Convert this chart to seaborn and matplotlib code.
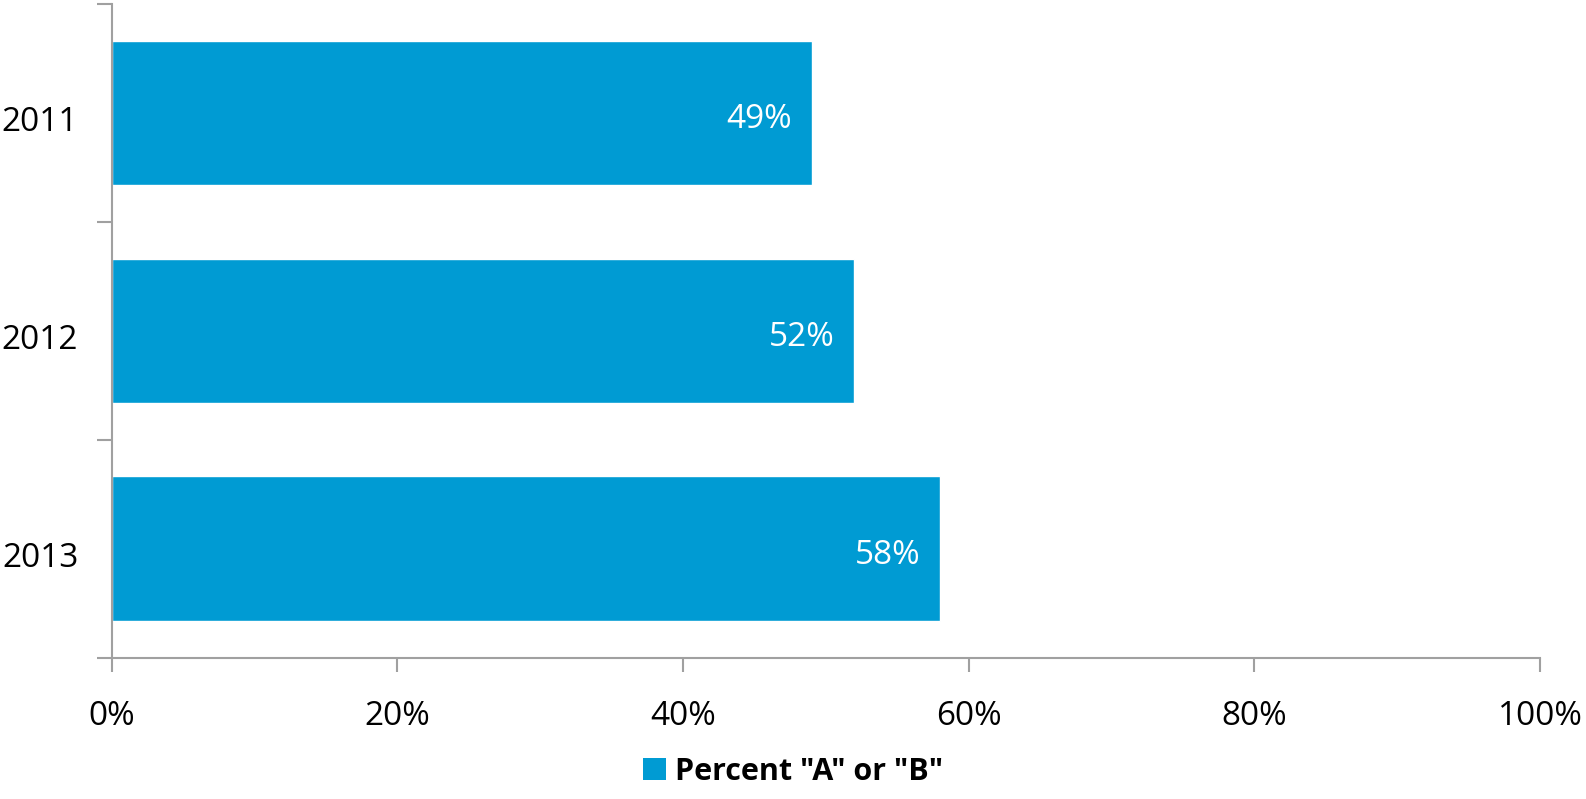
import matplotlib
matplotlib.use("Agg")
import matplotlib.pyplot as plt
import matplotlib.transforms as mtransforms
import seaborn as sns
import pandas as pd
from matplotlib.patches import Patch
from matplotlib.ticker import PercentFormatter, FixedLocator

years = ["2011", "2012", "2013"]
pct_a_or_b = [49, 52, 58]
x_ticks = [0, 20, 40, 60, 80, 100]
series_name = 'Percent "A" or "B"'

bar_color = "#009BD3"
axis_color = "#A0A0A0"

sns.set_style("white")
plt.rcParams["font.family"] = ["Open Sans", "DejaVu Sans"]
plt.rcParams["text.color"] = "black"

df = pd.DataFrame({"year": years, "pct": pct_a_or_b})

fig = plt.figure(figsize=(15.86, 7.99), dpi=100)
ax = fig.add_axes([0.0704, 0.1765, 0.9006, 0.8185])

sns.barplot(data=df, x="pct", y="year", orient="h", color=bar_color,
            saturation=1, width=0.665, ax=ax)

ax.set_xlim(0, 100)
ax.set_ylim(2.5, -0.5)
ax.set_xticks(x_ticks)
ax.xaxis.set_major_formatter(PercentFormatter(decimals=0))
ax.set_xlabel("")
ax.set_ylabel("")

# category labels centred, ticks on category boundaries
ax.yaxis.set_major_locator(FixedLocator([0, 1, 2]))
ax.yaxis.set_minor_locator(FixedLocator([-0.5, 0.5, 1.5, 2.5]))
ax.tick_params(axis="y", which="major", length=0, pad=24, labelsize=24,
               labelcolor="black")
ax.tick_params(axis="y", which="minor", length=11, width=1.5, color=axis_color,
               direction="out", left=True)
ax.tick_params(axis="x", which="major", length=10, width=1.5, color=axis_color,
               direction="out", bottom=True, pad=20, labelsize=24,
               labelcolor="black")

# nudge year labels down a little so digits sit centred on the bars
shift = mtransforms.ScaledTranslation(0, -4 / 72, fig.dpi_scale_trans)
for lbl in ax.get_yticklabels():
    lbl.set_transform(lbl.get_transform() + shift)

for side in ["top", "right"]:
    ax.spines[side].set_visible(False)
for side in ["left", "bottom"]:
    ax.spines[side].set_color(axis_color)
    ax.spines[side].set_linewidth(1.5)

for cont in ax.containers:
    texts = ax.bar_label(cont, labels=[f"{v}%" for v in pct_a_or_b],
                         label_type="edge", padding=-14, color="white",
                         fontsize=24)
    for t in texts:
        t.set_ha("right")
        t.xyann = (t.xyann[0], -5)

handle = Patch(facecolor=bar_color, edgecolor="none")
fig.legend([handle], [series_name], loc="center", bbox_to_anchor=(0.5, 0.034),
           frameon=False, prop={"weight": "bold", "size": 22},
           handlelength=0.75, handleheight=0.75, handletextpad=0.3)

fig.savefig("out.png", dpi=100)
